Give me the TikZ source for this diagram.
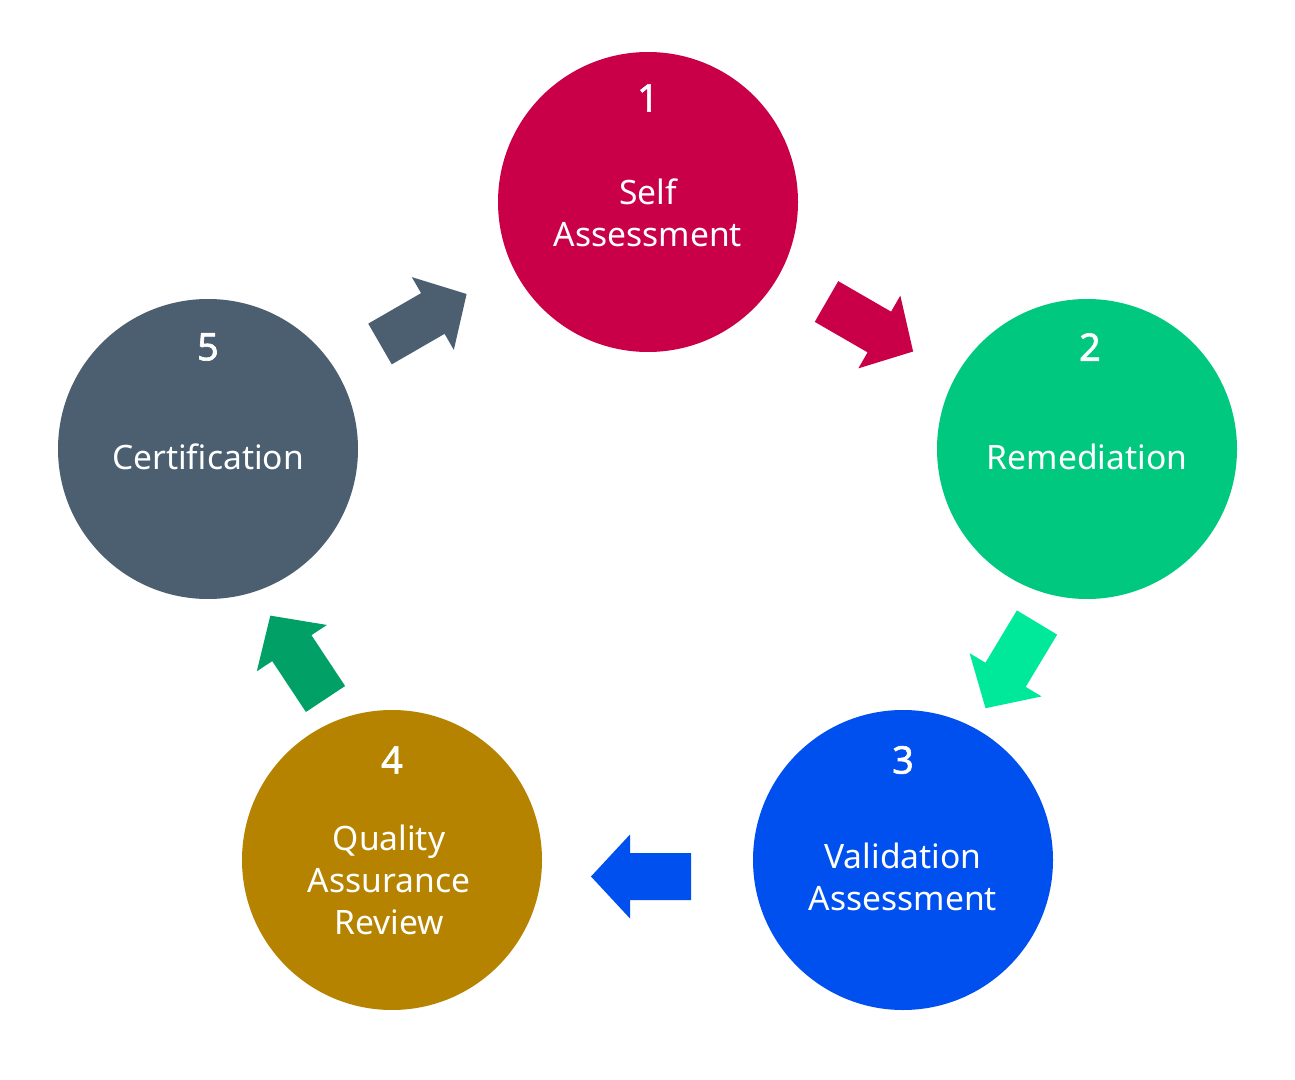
\documentclass[tikz,border=0pt]{standalone}
\usepackage{fontspec}
\setmainfont{Noto Sans}
\newfontfamily\numfont[FakeBold=1.6]{Noto Sans}
\usetikzlibrary{calc}
\definecolor{cA}{HTML}{C90047}
\definecolor{cB}{HTML}{00C97F}
\definecolor{cC}{HTML}{0050EF}
\definecolor{cD}{HTML}{B58300}
\definecolor{cE}{HTML}{4B5F71}
\definecolor{aB}{HTML}{00E99B}
\definecolor{aD}{HTML}{00A066}
\definecolor{txtc}{HTML}{FFFFFF}
\tikzset{
  stage/.style={circle, minimum size=150pt, inner sep=0pt, draw=none},
  num/.style={text=txtc, font=\numfont\fontsize{19}{22}\selectfont, inner sep=0pt},
  lbl/.style={text=txtc, font=\fontsize{16.8}{21}\selectfont, align=center, inner sep=0pt},
  blk/.pic={\path[pic actions] (0,-23.5) -- (61,-23.5) -- (61,-42) -- (100,0) -- (61,42) -- (61,23.5) -- (0,23.5) -- cycle;}
}
\begin{document}
\begin{tikzpicture}[x=0.5pt,y=-0.5pt]
\useasboundingbox (0,0) rectangle (1295,1080);
\fill[white] (0,0) rectangle (1295,1080);

\node[stage, fill=cA] (c1) at (648,202) {};
\node[stage, fill=cB] (c2) at (1087,449) {};
\node[stage, fill=cC] (c3) at (903,860) {};
\node[stage, fill=cD] (c4) at (392,860) {};
\node[stage, fill=cE] (c5) at (208,449) {};

\node[num] (n1) at ($(c1)+(0,-104)$) {1};
\node[num] (n2) at ($(c2)+(3,-102)$) {2};
\node[num] (n3) at ($(c3)+(0,-100)$) {3};
\node[num] (n4) at ($(c4)+(0,-100)$) {4};
\node[num] (n5) at ($(c5)+(0,-102)$) {5};

\node[lbl] (l1) at ($(c1)+(0,11)$) {Self\\Assessment};
\node[lbl] (l2) at ($(c2)+(0,8)$) {Remediation};
\node[lbl] (l3) at ($(c3)+(0,17)$) {Validation\\Assessment};
\node[lbl] (l4) at ($(c4)+(-3,20)$) {Quality\\Assurance\\Review};
\node[lbl] (l5) at ($(c5)+(0,8)$) {Certification};

\coordinate (a51) at (380,344);
\coordinate (a12) at (826.5,301.5);
\coordinate (a23) at (1037,622.5);
\coordinate (a34) at (691,876.5);
\coordinate (a45) at (325.5,699);

\pic[fill=cE, rotate=30] at (a51) {blk};
\pic[fill=cA, rotate=-30] at (a12) {blk};
\pic[fill=aB, rotate=-121] at (a23) {blk};
\pic[fill=cC, rotate=180] at (a34) {blk};
\pic[fill=aD, rotate=123.5] at (a45) {blk};
\end{tikzpicture}
\end{document}
